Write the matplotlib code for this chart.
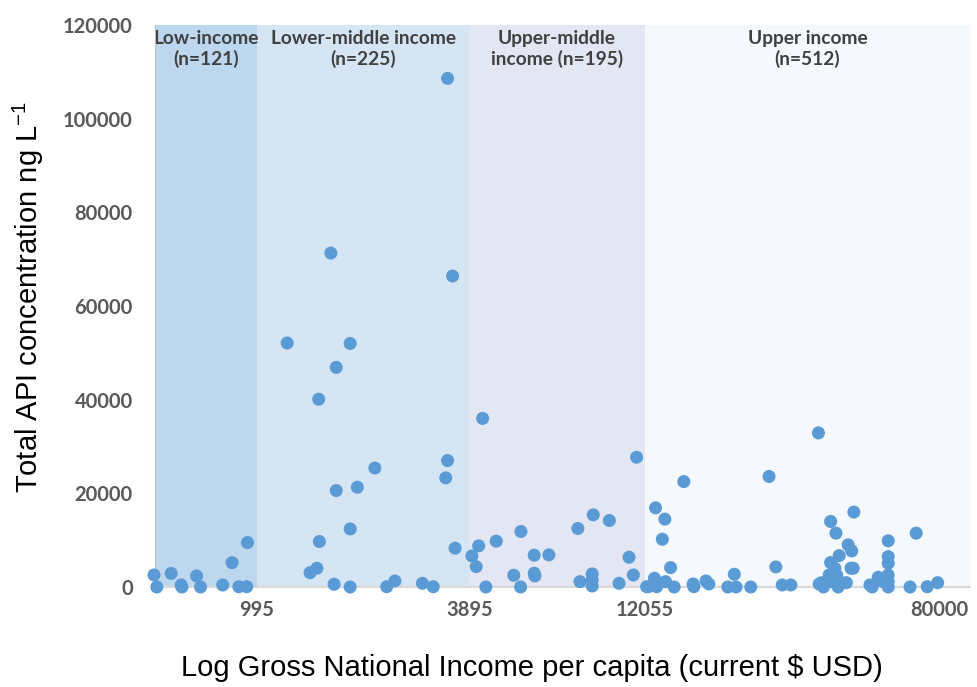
import numpy as np
import matplotlib
matplotlib.use("Agg")
import matplotlib.pyplot as plt

# Income group thresholds (GNI per capita, current USD) and axis ticks
tick_values = [995, 3895, 12055, 80000]
band_names = ["Low-income\n(n=121)", "Lower-middle income\n(n=225)",
              "Upper-middle\nincome (n=195)", "Upper income\n(n=512)"]
band_colors = ["#BDD7EE", "#D6E5F4", "#E2E7F3", "#F5F9FD"]

# log10 GNI per capita for each sampling country
log_gni = [
    2.710, 2.718, 2.758, 2.786, 2.788, 2.829, 2.840, 2.902, 2.928, 2.947, 2.969, 2.971,
    3.082, 3.146, 3.165, 3.170, 3.172, 3.204, 3.213, 3.219, 3.219, 3.258, 3.258, 3.258,
    3.278, 3.327, 3.360, 3.383, 3.460, 3.490, 3.525, 3.530, 3.530, 3.544, 3.551,
    3.598, 3.610, 3.617, 3.628, 3.637, 3.666, 3.715, 3.734, 3.735, 3.772, 3.772, 3.774,
    3.813, 3.894, 3.900, 3.934, 3.934, 3.934, 3.937, 3.982, 4.009, 4.037, 4.049, 4.058,
    4.086, 4.091, 4.108, 4.111, 4.114, 4.130, 4.137, 4.139, 4.153, 4.163, 4.190, 4.216,
    4.218, 4.252, 4.260, 4.313, 4.331, 4.336, 4.377, 4.428, 4.447, 4.465, 4.489, 4.566,
    4.568, 4.575, 4.580, 4.596, 4.600, 4.600, 4.603, 4.608, 4.612, 4.615, 4.617, 4.621,
    4.624, 4.630, 4.644, 4.649, 4.657, 4.659, 4.663, 4.665, 4.710, 4.716, 4.733, 4.747,
    4.761, 4.761, 4.761, 4.761, 4.761, 4.761, 4.822, 4.839, 4.870, 4.899,
]

# Total API concentration (ng/L) for the same samples
api_conc = [
    2570, 0, 2900, 430, 0, 2360, 0, 430, 5210, 60, 60, 9490,
    52100, 3060, 4010, 40100, 9710, 71300, 580, 46900, 20600, 52000, 12400, 0,
    21300, 25400, 60, 1290, 790, 60, 23300, 27000, 108600, 66400, 8290,
    6640, 4350, 8790, 36000, 0, 9790, 2510, 0, 11850, 6790, 2940, 2360,
    6860, 12500, 1140, 2790, 1500, 210, 15400, 14200, 790, 6360, 2570, 27700,
    60, 60, 1860, 16900, 60, 10200, 14500, 1140, 4140, 0, 22500, 640,
    60, 1290, 640, 0, 2720, 0, 0, 23600, 4290, 430, 430, 32900,
    640, 920, 0, 2570, 14000, 5210, 1140, 1860, 4010, 11500, 2570, 0,
    6710, 920, 920, 9000, 4010, 7710, 4010, 16000, 430, 0, 2080, 1140,
    9860, 6490, 5080, 2570, 1140, 0, 0, 11500, 60, 920,
]

fig = plt.figure(figsize=(9.78, 6.87), dpi=100)
ax = fig.add_axes([155 / 978, 1 - 587 / 687, 815 / 978, 562 / 687])

x_lo, x_hi = 2.7128, 4.9894
edges = [x_lo] + list(np.log10(tick_values[:3])) + [x_hi]

# shaded income-group bands with their titles
for i in range(4):
    ax.axvspan(edges[i], edges[i + 1], color=band_colors[i], lw=0, zorder=0)
    ax.text((edges[i] + edges[i + 1]) / 2, 118900, band_names[i],
            ha="center", va="top", fontsize=13.8, fontweight="bold",
            family="Lato", color="#404040", zorder=2)

ax.scatter(log_gni, api_conc, s=88, color="#5B9BD5", edgecolors="none",
           zorder=3, clip_on=False)

ax.set_xlim(x_lo, x_hi)
ax.set_ylim(0, 120000)

ax.set_xticks(np.log10(tick_values))
ax.set_xticklabels([str(v) for v in tick_values])
ax.set_yticks(range(0, 120001, 20000))
ax.set_yticklabels([str(v) for v in range(0, 120001, 20000)])
ax.tick_params(axis="both", length=0, labelsize=14.5, labelcolor="#595959")
ax.tick_params(axis="y", pad=16)
ax.tick_params(axis="x", pad=9)
for lbl in ax.get_xticklabels() + ax.get_yticklabels():
    lbl.set_fontweight("bold")
    lbl.set_family("Lato")

for side in ["top", "right"]:
    ax.spines[side].set_visible(False)
ax.spines["bottom"].set_color("#D9D9D9")
ax.spines["bottom"].set_linewidth(1.5)
ax.spines["left"].set_color("#BFBFBF")
ax.spines["left"].set_linewidth(0.8)

fig.text(532 / 978, 1 - 668 / 687, "Log Gross National Income per capita (current $ USD)",
         ha="center", va="center", fontsize=21, family="Liberation Sans")
fig.text(28 / 978, 1 - 297 / 687, "Total API concentration ng L$^{\\mathregular{-1}}$",
         ha="center", va="center", rotation=90, fontsize=21, family="Liberation Sans")

fig.savefig("out.png", dpi=100)
